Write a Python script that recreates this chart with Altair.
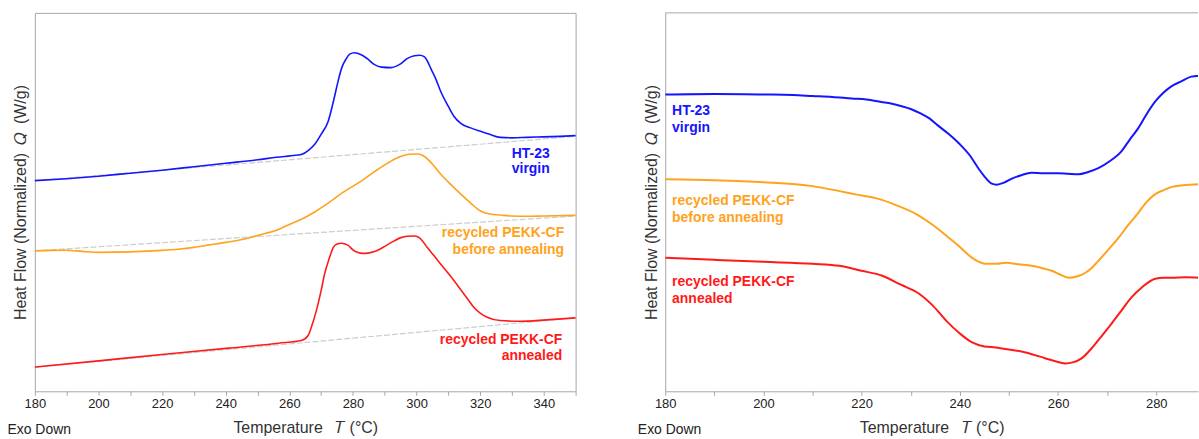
import altair as alt
import pandas as pd

FONT = "Liberation Sans"
FRAME = "#a6a6a6"
BLUE = "#1414ff"
ORANGE = "#ffa21c"
RED = "#ff1a1a"
GRAY = "#cdcdcd"

# ---------------- Left panel: heating scan (T in °C, Q normalized, arbitrary units)
L_BLUE_T = [180, 190, 200, 210, 220, 230, 240, 250, 256, 262, 264, 266, 268, 270, 272.2, 274, 275.3, 276.5,
            277.9, 279, 280.5, 282.6, 284.5, 286.8, 289, 292, 294, 295.1, 297, 299.3, 301, 302.4, 303.5, 304.5,
            306, 307.6, 310, 311.8, 313.9, 317, 320.1, 323, 326.3, 330, 334.7, 340, 345, 350]
L_BLUE_Q = [211.5, 213.5, 216, 219, 222, 225.5, 229, 232.5, 235, 237, 238, 242, 248, 258, 271, 293, 311, 325,
            334, 338.5, 340, 338, 334, 328, 325.5, 325, 327, 329, 334, 337, 337.5, 336, 331, 324,
            314, 301, 286, 276, 269, 264.5, 261, 258, 255, 254.5, 255, 255.5, 256, 256.7]

L_ORANGE_T = [180, 185, 190, 195, 200, 210, 220, 225, 230, 235, 240, 246, 250, 256.6, 260, 264.9, 268, 272.2,
              277, 282.6, 287, 291, 294, 296.2, 298, 300.3, 302.4, 305, 307.6, 310, 313.9, 317, 320.1, 323,
              326.3, 330, 334.7, 340, 350]
L_ORANGE_Q = [141, 141.5, 141.7, 140.5, 139.5, 140, 141.5, 142.7, 144.5, 147, 149.5, 153, 156.5, 162.5, 167.5,
              174.5, 180, 189, 200, 211, 221, 229.3, 234.5, 237, 238, 238.3, 236, 228, 218, 210, 198, 189, 181,
              178, 177, 176, 175.7, 176, 176.7]

L_RED_T = [180, 200, 220, 240.9, 256.6, 263.8, 265.9, 267, 268.5, 270, 271.1, 272.5, 273.8, 275, 276.4, 277.5,
           278.4, 280, 281.6, 283, 284.7, 286.5, 287.8, 290, 292, 295.1, 297, 299.3, 300.5, 301.4, 303.4, 305.5,
           308, 311.8, 313.9, 316, 318, 320, 322.2, 326.3, 332.6, 340.9, 350]
L_RED_Q = [24.3, 30.5, 37, 43.3, 48.3, 51, 56, 65, 81, 101, 118, 133, 144.3, 148, 148.7, 148,
           146.7, 142, 139.3, 138.5, 138.7, 140, 141.7, 145.5, 149.3, 154.3, 155.7, 156, 155, 152.7, 144.3, 136,
           126, 111, 102, 93, 84.3, 78.5, 74.3, 71, 70.3, 71.7, 73.7]

# straight baselines (start / end points)
L_BASE_T = [180, 350]
L_BASE_BLUE_Q = [211.5, 256]
L_BASE_ORANGE_Q = [141, 176]
L_BASE_RED_Q = [24.3, 73.7]

# ---------------- Right panel: cooling scan
R_BLUE_T = [180, 190, 200, 206, 210, 214, 218, 221, 224, 226, 228, 230, 232, 233.8, 235.5, 237.8, 240, 242,
            243.9, 245.3, 246.5, 247.5, 249, 250.6, 252.5, 254.6, 257, 260, 262, 264.2, 266, 268.2, 270.5,
            272.9, 274.5, 276.3, 278, 279.8, 281.5, 283, 285, 287.1, 288.8]
R_BLUE_Q = [298, 298.5, 298, 297.5, 296.5, 295.5, 294, 293, 290.5, 289, 286.5, 283.5, 279, 274, 267, 258, 248, 237,
            223, 214, 208.5, 207.5, 209.5, 213.5, 217, 219.5, 219, 219, 218.5, 218, 220, 224, 231,
            241, 252, 264, 278, 291, 300, 306, 311, 316, 317]

R_ORANGE_T = [180, 190, 200, 210, 215.5, 219, 223.6, 227, 231.1, 234.5, 237.8, 240, 242.5, 245.3, 247.5, 249.4,
              252, 254.6, 256.5, 258.7, 260.5, 262.2, 264, 265.6, 267, 268.2, 270.2, 272.3, 274.3, 276.3, 278,
              279.8, 281.5, 283, 285.5, 288.8]
R_ORANGE_Q = [213, 212, 210, 206, 201, 197.5, 193, 187, 178, 167, 154, 145, 134, 128, 128, 129,
              127.5, 126, 124, 121, 117, 114, 115.5, 119, 124.5, 131, 142, 154, 167, 179, 190,
              198, 202, 205, 207, 208]

R_RED_T = [180, 190, 200, 210, 215.5, 220, 224.2, 228, 231.7, 234.5, 237.2, 240, 242.5, 245, 247.3, 250, 253.4,
           257.5, 260, 261.5, 263, 264.8, 266.8, 268.8, 270.9, 272.9, 274.9, 277, 279.8, 281.5, 283, 286, 288.8]
R_RED_Q = [134, 132, 130, 128, 126, 121, 116, 107, 98, 86, 71, 58, 49, 45, 44, 42, 39,
           33, 29.5, 28, 29, 33, 43, 55, 68, 81, 94, 104, 113, 114, 114, 114.5, 114]

# ---------------- labels
SERIES = ["HT-23 virgin", "recycled before annealing", "recycled annealed"]
COLORS = [BLUE, ORANGE, RED]
LABEL_TEXT = ["HT-23", "virgin", "recycled PEKK-CF", "before annealing", "recycled PEKK-CF", "annealed"]
LABEL_SERIES = [SERIES[0], SERIES[0], SERIES[1], SERIES[1], SERIES[2], SERIES[2]]
L_LABEL_T = [335.9, 335.9, 346.4, 346.4, 345.8, 345.8]
L_LABEL_Q = [238.3, 222.7, 159, 142, 51.7, 35.3]
L_LABEL_ALIGN = ["center", "center", "right", "right", "right", "right"]
R_LABEL_T = [181.4, 181.4, 181.4, 181.4, 181.4, 181.4]
R_LABEL_Q = [281, 264.3, 191, 174.3, 109.3, 92.7]

Y_TITLE = "Heat Flow (Normalized)\u2002\U0001D444\u2002(W/g)"
X_TITLE = "Temperature\u2002 \U0001D447 (°C)"


def curves(pairs):
    rows = []
    for name, ts, qs in pairs:
        for t, q in zip(ts, qs):
            rows.append({"series": name, "T": t, "Q": q})
    return pd.DataFrame(rows)


color = alt.Color("series:N", scale=alt.Scale(domain=SERIES, range=COLORS), legend=None)

# ---------- left
LW, RW, H = 543, 535, 380
left_df = curves([(SERIES[0], L_BLUE_T, L_BLUE_Q), (SERIES[1], L_ORANGE_T, L_ORANGE_Q),
                  (SERIES[2], L_RED_T, L_RED_Q)])
base_df = curves([("b1", L_BASE_T, L_BASE_BLUE_Q), ("b2", L_BASE_T, L_BASE_ORANGE_Q),
                  ("b3", L_BASE_T, L_BASE_RED_Q)])
left_lab = pd.DataFrame({"text": LABEL_TEXT, "series": LABEL_SERIES, "T": L_LABEL_T, "Q": L_LABEL_Q,
                         "align": L_LABEL_ALIGN})

xL = alt.X("T:Q", scale=alt.Scale(domain=[180, 350], nice=False, zero=False),
           axis=alt.Axis(values=list(range(180, 351, 10)),
                         labelExpr="datum.value % 20 == 0 ? datum.label : ''",
                         format="d", title=X_TITLE, domain=False, labelFlush=False))
yAx = alt.Axis(title=Y_TITLE, labels=False, ticks=False, domain=False, titlePadding=6)
yL = alt.Y("Q:Q", scale=alt.Scale(domain=[0, 380], nice=False, zero=False), axis=yAx)

l_base = alt.Chart(base_df).mark_line(color=GRAY, strokeWidth=1.2, strokeDash=[6, 2]).encode(
    x=xL, y=yL, detail="series:N")
l_lines = alt.Chart(left_df).mark_line(strokeWidth=1.6, interpolate="monotone").encode(
    x=xL, y=yL, color=color)
l_text_r = alt.Chart(left_lab[left_lab["align"] == "right"]).mark_text(
    align="right", baseline="middle", font=FONT, fontSize=14, fontWeight="bold").encode(
    x=xL, y=yL, text="text:N", color=color)
l_text_c = alt.Chart(left_lab[left_lab["align"] == "center"]).mark_text(
    align="center", baseline="middle", font=FONT, fontSize=14, fontWeight="bold").encode(
    x=xL, y=yL, text="text:N", color=color)
exo = alt.Chart(pd.DataFrame({"text": ["Exo Down"]})).mark_text(
    align="left", baseline="middle", font=FONT, fontSize=14, color="#222222").encode(
    x=alt.value(-27.5), y=alt.value(419), text="text:N")

left = alt.layer(l_base, l_lines, l_text_r, l_text_c, exo).properties(width=LW, height=H)

# ---------- right
right_df = curves([(SERIES[0], R_BLUE_T, R_BLUE_Q), (SERIES[1], R_ORANGE_T, R_ORANGE_Q),
                   (SERIES[2], R_RED_T, R_RED_Q)])
right_lab = pd.DataFrame({"text": LABEL_TEXT, "series": LABEL_SERIES, "T": R_LABEL_T, "Q": R_LABEL_Q})

xR = alt.X("T:Q", scale=alt.Scale(domain=[180, 288.5], nice=False, zero=False),
           axis=alt.Axis(values=list(range(180, 289, 10)),
                         labelExpr="datum.value % 20 == 0 ? datum.label : ''",
                         format="d", title=X_TITLE, domain=True, labelFlush=False))
yR = alt.Y("Q:Q", scale=alt.Scale(domain=[0, 380], nice=False, zero=False),
           axis=alt.Axis(title=Y_TITLE, labels=False, ticks=False, domain=True, titlePadding=6))

r_lines = alt.Chart(right_df).mark_line(strokeWidth=2.0, clip=True, interpolate="monotone").encode(
    x=xR, y=yR, color=color)
r_text = alt.Chart(right_lab).mark_text(
    align="left", baseline="middle", font=FONT, fontSize=14, fontWeight="bold").encode(
    x=xR, y=yR, text="text:N", color=color)
top_rule = alt.Chart(pd.DataFrame({"k": [0]})).mark_rule(color=FRAME, strokeWidth=1).encode(
    y=alt.value(0), x=alt.value(0), x2=alt.value(RW))
exo_r = alt.Chart(pd.DataFrame({"text": ["Exo Down"]})).mark_text(
    align="left", baseline="middle", font=FONT, fontSize=14, color="#222222").encode(
    x=alt.value(-27.5), y=alt.value(419), text="text:N")

right = alt.layer(r_lines, r_text, top_rule, exo_r).properties(
    width=RW, height=H, view=alt.ViewBackground(strokeOpacity=0))

chart = alt.hconcat(left, right, spacing=58).properties(
    padding={"left": 7, "top": 11, "right": 0, "bottom": 0}
).configure_view(stroke=FRAME, strokeWidth=1).configure_axis(
    labelFont=FONT, labelFontSize=13, labelColor="#222222", labelPadding=2,
    titleFont=FONT, titleFontSize=16, titleFontWeight="normal", titleColor="#333333",
    tickColor=FRAME, tickSize=4, domainColor=FRAME, grid=False, titlePadding=9
).configure_axisY(titlePadding=6)

chart.save("out.html", embed_options={"renderer": "svg", "actions": False})
